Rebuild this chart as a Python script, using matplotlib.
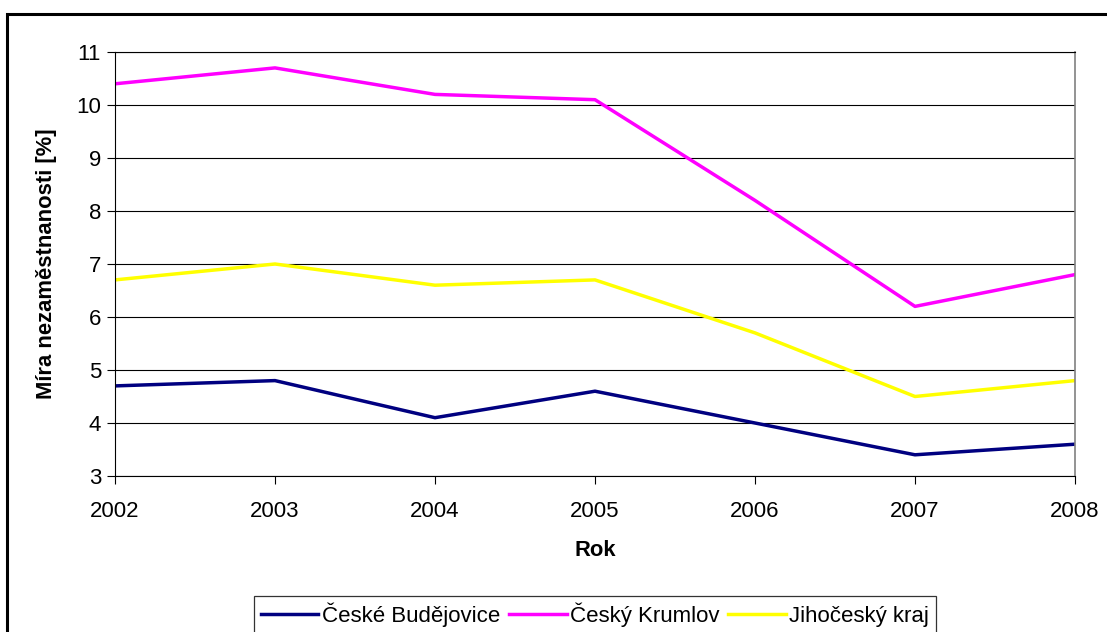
import matplotlib
matplotlib.use('Agg')
import matplotlib.pyplot as plt
from matplotlib.patches import Rectangle

plt.rcParams['font.family'] = ['Liberation Sans', 'DejaVu Sans']

years = [2002, 2003, 2004, 2005, 2006, 2007, 2008]
budejovice = [4.7, 4.8, 4.1, 4.6, 4.0, 3.4, 3.6]
krumlov = [10.4, 10.7, 10.2, 10.1, 8.2, 6.2, 6.8]
kraj = [6.7, 7.0, 6.6, 6.7, 5.7, 4.5, 4.8]

series = [
    ('České Budějovice', budejovice, '#000080'),
    ('Český Krumlov', krumlov, '#FF00FF'),
    ('Jihočeský kraj', kraj, '#FFFF00'),
]

W, H = 1107, 632
fig = plt.figure(figsize=(W / 100, H / 100), dpi=100)
ax = fig.add_axes([115 / W, 1 - 476 / H, (1075 - 115) / W, (476 - 52) / H])

for name, vals, col in series:
    ax.plot(years, vals, color=col, lw=2.5, label=name)

ax.set_xlim(2002, 2008)
ax.set_ylim(3, 11)
ax.set_xticks(years)
ax.set_yticks(range(3, 12))
ax.grid(axis='y', color='black', lw=0.8)
ax.set_axisbelow(True)
ax.tick_params(axis='both', labelsize=16, direction='out', length=6, width=0.8, color='black')
ax.tick_params(axis='y', pad=4)
ax.tick_params(axis='x', pad=12)

for side in ['left', 'bottom', 'top']:
    ax.spines[side].set_color('black')
    ax.spines[side].set_linewidth(0.8)
ax.spines['right'].set_color('#808080')
ax.spines['right'].set_linewidth(1.2)

fig.text(47 / W, 1 - 264 / H, 'Míra nezaměstnanosti [%]', rotation=90,
         ha='center', va='center', fontsize=15.8, fontweight='bold')
fig.text(595 / W, 1 - 550 / H, 'Rok', ha='center', va='center',
         fontsize=15.8, fontweight='bold')

leg = fig.legend(loc='upper center', bbox_to_anchor=(595 / W, 1 - 596 / H),
                 ncol=3, fontsize=16, frameon=True, fancybox=False,
                 edgecolor='black', handlelength=2.6, handletextpad=0.15,
                 columnspacing=0.4, borderpad=0.3, borderaxespad=0)
leg.get_frame().set_linewidth(0.9)

# outer chart border (cut at right and bottom)
fig.patches.append(Rectangle((7 / W, -0.1), 1.2, 1 - 14 / H + 0.1,
                             transform=fig.transFigure, fill=False,
                             edgecolor='black', lw=2.2))

fig.savefig('out.png', dpi=100)
